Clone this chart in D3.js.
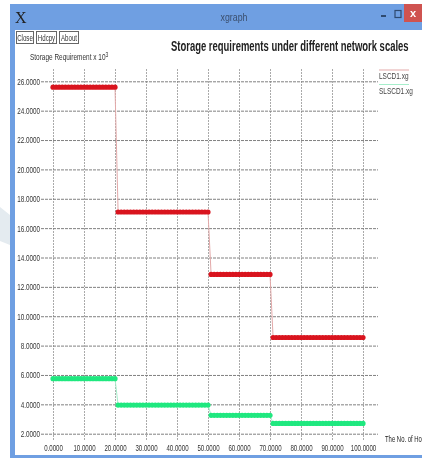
<!DOCTYPE html>
<html lang="en">
<head>
<meta charset="utf-8">
<title>xgraph</title>
<script src="https://cdn.jsdelivr.net/npm/d3@7/dist/d3.min.js"></script>
<style>
html, body { margin: 0; padding: 0; background: #fff; overflow: hidden; }
svg { filter: blur(0.35px); }
text { font-family: "Liberation Sans", Arial, sans-serif; }
</style>
</head>
<body>
<div id="chart"></div>
<script>
// values, one entry per plotted point
var xValues = [0,1,2,3,4,5,6,7,8,9,10,11,12,13,14,15,16,17,18,19,20,
  21,22,23,24,25,26,27,28,29,30,31,32,33,34,35,36,37,38,39,40,41,42,43,44,45,46,47,48,49,50,
  51,52,53,54,55,56,57,58,59,60,61,62,63,64,65,66,67,68,69,70,
  71,72,73,74,75,76,77,78,79,80,81,82,83,84,85,86,87,88,89,90,91,92,93,94,95,96,97,98,99,100];
var lscd = [25.6,25.6,25.6,25.6,25.6,25.6,25.6,25.6,25.6,25.6,25.6,25.6,25.6,25.6,25.6,25.6,25.6,25.6,25.6,25.6,25.6,
  17.1,17.1,17.1,17.1,17.1,17.1,17.1,17.1,17.1,17.1,17.1,17.1,17.1,17.1,17.1,17.1,17.1,17.1,17.1,17.1,17.1,17.1,17.1,17.1,17.1,17.1,17.1,17.1,17.1,17.1,
  12.85,12.85,12.85,12.85,12.85,12.85,12.85,12.85,12.85,12.85,12.85,12.85,12.85,12.85,12.85,12.85,12.85,12.85,12.85,12.85,
  8.55,8.55,8.55,8.55,8.55,8.55,8.55,8.55,8.55,8.55,8.55,8.55,8.55,8.55,8.55,8.55,8.55,8.55,8.55,8.55,8.55,8.55,8.55,8.55,8.55,8.55,8.55,8.55,8.55,8.55];
var slscd = [5.75,5.75,5.75,5.75,5.75,5.75,5.75,5.75,5.75,5.75,5.75,5.75,5.75,5.75,5.75,5.75,5.75,5.75,5.75,5.75,5.75,
  3.95,3.95,3.95,3.95,3.95,3.95,3.95,3.95,3.95,3.95,3.95,3.95,3.95,3.95,3.95,3.95,3.95,3.95,3.95,3.95,3.95,3.95,3.95,3.95,3.95,3.95,3.95,3.95,3.95,3.95,
  3.25,3.25,3.25,3.25,3.25,3.25,3.25,3.25,3.25,3.25,3.25,3.25,3.25,3.25,3.25,3.25,3.25,3.25,3.25,3.25,
  2.7,2.7,2.7,2.7,2.7,2.7,2.7,2.7,2.7,2.7,2.7,2.7,2.7,2.7,2.7,2.7,2.7,2.7,2.7,2.7,2.7,2.7,2.7,2.7,2.7,2.7,2.7,2.7,2.7,2.7];
var xTicks = [0,10,20,30,40,50,60,70,80,90,100];
var yTicks = [2,4,6,8,10,12,14,16,18,20,22,24,26];
var buttons = ["Close","Hdcpy","About"];
var legendNames = ["LSCD1.xg","SLSCD1.xg"];

var svg = d3.select("#chart").append("svg")
  .attr("width", 422)
  .attr("height", 458)
  .style("display", "block");

// the fonts here are wider than the original, so squeeze text sideways
function squeeze(txt, px, py, k) {
  return txt.attr("x", 0).attr("y", 0)
    .attr("transform", "translate(" + px + "," + py + ") scale(" + k + ",1)");
}

// pale shape showing at the left of the window
svg.append("path").attr("d", "M0,207 L10,215 L10,245 L0,241 Z").attr("fill", "#e4ebf0");

// window frame
svg.append("rect").attr("x", 10).attr("y", 4).attr("width", 412).attr("height", 454).attr("fill", "#6f9fe2");
svg.append("rect").attr("x", 15).attr("y", 30).attr("width", 407).attr("height", 425).attr("fill", "#fff");
svg.append("rect").attr("x", 404).attr("y", 4).attr("width", 18).attr("height", 18).attr("fill", "#cf5350");
svg.append("text").attr("x", 413).attr("y", 17).attr("text-anchor", "middle")
  .attr("font-size", 11).attr("font-weight", "bold").attr("fill", "#fff").text("x");
svg.append("text").attr("x", 15).attr("y", 23)
  .style("font-family", "'Liberation Serif', serif")
  .attr("font-size", 16).attr("fill", "#222").text("X");
squeeze(svg.append("text"), 234, 21, 0.8).attr("text-anchor", "middle")
  .attr("font-size", 11).attr("fill", "#3b4f6e").text("xgraph");
svg.append("rect").attr("x", 381).attr("y", 15).attr("width", 5).attr("height", 2).attr("fill", "#2f4a70");
svg.append("rect").attr("x", 395).attr("y", 10.5).attr("width", 6).attr("height", 7)
  .attr("fill", "none").attr("stroke", "#2f4a70").attr("stroke-width", 1.2);

// toolbar buttons
var btnX = [16, 36, 59];
var btnW = [17, 20, 19];
buttons.forEach(function(b, i) {
  svg.append("rect").attr("x", btnX[i] + 0.5).attr("y", 31.5).attr("width", btnW[i]).attr("height", 12)
    .attr("fill", "#fff").attr("stroke", "#666");
  squeeze(svg.append("text"), btnX[i] + btnW[i] / 2 + 0.5, 41, 0.72).attr("text-anchor", "middle")
    .attr("font-size", 8.5).attr("fill", "#333").text(b);
});

squeeze(svg.append("text"), 171, 51, 0.631)
  .attr("font-size", 15).attr("font-weight", "bold").attr("fill", "#222")
  .text("Storage requirements under different network scales");

var yLabel = squeeze(svg.append("text"), 30, 60, 0.72).attr("font-size", 9).attr("fill", "#333");
yLabel.append("tspan").text("Storage Requirement x 10");
yLabel.append("tspan").attr("font-size", 7).attr("dy", -3).text("3");

var x = d3.scaleLinear().domain([0, 100]).range([53, 363]);
var y = d3.scaleLinear().domain([2, 26]).range([433.7, 81.3]);

// grid from axis ticks
var gridX = d3.axisBottom(x).tickValues(xTicks).tickSize(-372).tickFormat("");
var gx = svg.append("g").attr("transform", "translate(0,440)").call(gridX);
gx.select(".domain").remove();
gx.selectAll("line").attr("stroke", "#aaa").attr("stroke-dasharray", "2,1");

var gridY = d3.axisLeft(y).tickValues(yTicks).tickSize(-337).tickFormat("");
var gy = svg.append("g").attr("transform", "translate(41,0)").call(gridY);
gy.select(".domain").remove();
gy.selectAll("line").attr("stroke", "#808080").attr("stroke-dasharray", "3,1");

// tick labels
var axisX = d3.axisBottom(x).tickValues(xTicks).tickSize(0).tickPadding(0).tickFormat(d3.format(".4f"));
var lx = svg.append("g").attr("transform", "translate(0,445)").call(axisX);
lx.select(".domain").remove();
lx.selectAll("text").attr("font-size", 9).attr("fill", "#333")
  .style("font-family", "'Liberation Sans', sans-serif").attr("transform", "scale(0.68,1)");

var axisY = d3.axisLeft(y).tickValues(yTicks).tickSize(0).tickPadding(0).tickFormat(d3.format(".4f"));
var ly = svg.append("g").attr("transform", "translate(40,0)").call(axisY);
ly.select(".domain").remove();
ly.selectAll("text").attr("font-size", 9).attr("fill", "#333")
  .style("font-family", "'Liberation Sans', sans-serif").attr("transform", "scale(0.7,1)");

squeeze(svg.append("text"), 385, 442, 0.66).attr("font-size", 9).attr("fill", "#222").text("The No. of Ho");

// series
var line = d3.line().x(function(d) { return x(d[0]); }).y(function(d) { return y(d[1]); });
var series = [
  { name: legendNames[0], values: lscd, color: "#d9141e", link: "#e3a9a9" },
  { name: legendNames[1], values: slscd, color: "#1fe87f", link: "#a6eecb" }
];
series.forEach(function(s) {
  var pts = d3.zip(xValues, s.values);
  svg.append("path").attr("d", line(pts)).attr("fill", "none").attr("stroke", s.link).attr("stroke-width", 1);
  svg.append("g").selectAll("circle").data(pts).join("circle")
    .attr("cx", function(d) { return x(d[0]); })
    .attr("cy", function(d) { return y(d[1]); })
    .attr("r", 2.6)
    .attr("fill", s.color);
});

// legend
series.forEach(function(s, i) {
  var ty = 79 + i * 14.5;
  svg.append("line").attr("x1", 379).attr("x2", 409).attr("y1", ty - 9).attr("y2", ty - 9)
    .attr("stroke", s.link).attr("stroke-width", 1);
  squeeze(svg.append("text"), 379, ty, 0.72).attr("font-size", 9).attr("fill", "#444").text(s.name);
});
</script>
</body>
</html>
